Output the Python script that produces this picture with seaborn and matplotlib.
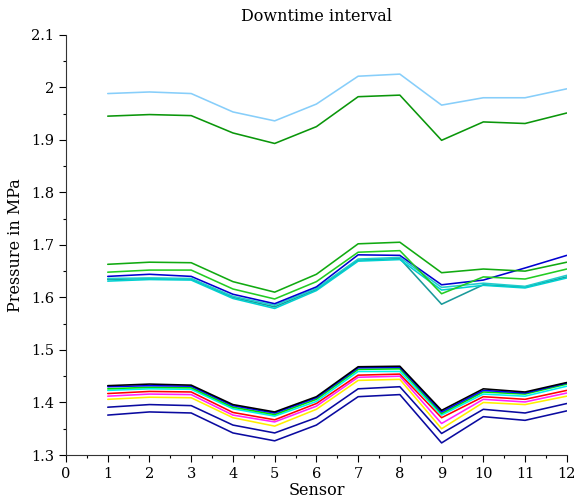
import numpy as np
import pandas as pd
import matplotlib
matplotlib.use("Agg")
import matplotlib.pyplot as plt
import matplotlib.ticker as mticker
import seaborn as sns

# sensor positions
sensors = list(range(1, 13))

# upper group
light_blue = [1.988, 1.991, 1.988, 1.953, 1.936, 1.968, 2.021, 2.025, 1.966, 1.980, 1.980, 1.997]
top_green = [1.945, 1.948, 1.946, 1.913, 1.893, 1.925, 1.982, 1.985, 1.899, 1.934, 1.931, 1.951]

# middle group
mid_green = [1.663, 1.667, 1.666, 1.630, 1.610, 1.644, 1.702, 1.705, 1.647, 1.654, 1.650, 1.667]
mid_lime = [1.648, 1.652, 1.652, 1.616, 1.597, 1.630, 1.686, 1.689, 1.607, 1.639, 1.635, 1.654]
mid_blue = [1.640, 1.644, 1.640, 1.606, 1.588, 1.620, 1.681, 1.680, 1.624, 1.633, 1.656, 1.680]
mid_teal = [1.634, 1.636, 1.635, 1.600, 1.582, 1.615, 1.671, 1.674, 1.587, 1.624, 1.620, 1.639]
mid_cyan1 = [1.636, 1.637, 1.636, 1.602, 1.585, 1.617, 1.673, 1.676, 1.619, 1.627, 1.621, 1.642]
mid_cyan2 = [1.631, 1.634, 1.633, 1.598, 1.579, 1.613, 1.669, 1.672, 1.614, 1.623, 1.618, 1.637]

# lower group
low_black = [1.432, 1.435, 1.433, 1.396, 1.382, 1.411, 1.468, 1.469, 1.385, 1.426, 1.420, 1.438]
low_blue = [1.430, 1.432, 1.431, 1.394, 1.380, 1.409, 1.466, 1.467, 1.382, 1.423, 1.418, 1.437]
low_green = [1.426, 1.429, 1.428, 1.391, 1.377, 1.406, 1.463, 1.464, 1.379, 1.420, 1.416, 1.435]
low_cyan = [1.423, 1.426, 1.425, 1.388, 1.374, 1.402, 1.459, 1.459, 1.376, 1.416, 1.412, 1.431]
low_red = [1.417, 1.421, 1.420, 1.381, 1.367, 1.398, 1.452, 1.454, 1.371, 1.411, 1.406, 1.423]
low_magenta = [1.412, 1.416, 1.415, 1.376, 1.363, 1.393, 1.448, 1.450, 1.360, 1.406, 1.401, 1.418]
low_yellow = [1.406, 1.410, 1.409, 1.371, 1.355, 1.387, 1.442, 1.444, 1.350, 1.400, 1.396, 1.412]
low_navy1 = [1.391, 1.396, 1.394, 1.357, 1.342, 1.371, 1.426, 1.430, 1.341, 1.387, 1.380, 1.398]
low_navy2 = [1.376, 1.382, 1.380, 1.342, 1.327, 1.357, 1.411, 1.415, 1.323, 1.373, 1.366, 1.384]

series = [
    (light_blue, "#87cefa"),
    (top_green, "#0a960a"),
    (mid_teal, "#1a9a9a"),
    (mid_cyan1, "#20cccc"),
    (mid_cyan2, "#00d0d0"),
    (mid_blue, "#0000d0"),
    (mid_lime, "#22cc22"),
    (mid_green, "#11aa11"),
    (low_navy2, "#0a0aa0"),
    (low_navy1, "#0a0aa0"),
    (low_yellow, "#ffee00"),
    (low_magenta, "#ff22ff"),
    (low_red, "#ff0000"),
    (low_cyan, "#00f0f0"),
    (low_green, "#00e000"),
    (low_blue, "#0000ff"),
    (low_black, "#000000"),
]

sns.set_theme(style="ticks")
plt.rcParams["font.family"] = ["DejaVu Serif"]
plt.rcParams["text.color"] = "black"
plt.rcParams["axes.labelcolor"] = "black"

fig = plt.figure(figsize=(5.76, 5.03), dpi=100)
ax = fig.add_axes([0.1146, 0.0954, 0.8694, 0.8356])

for vals, col in series:
    sns.lineplot(x=sensors, y=vals, color=col, linewidth=1.15, ax=ax)

ax.set_xlim(0, 12)
ax.set_ylim(1.3, 2.1)
ax.xaxis.set_major_locator(mticker.MultipleLocator(1))
ax.xaxis.set_minor_locator(mticker.MultipleLocator(0.5))
ax.yaxis.set_major_locator(mticker.MultipleLocator(0.1))
ax.yaxis.set_minor_locator(mticker.MultipleLocator(0.05))
ax.yaxis.set_major_formatter(mticker.FuncFormatter(lambda v, p: "%g" % round(v, 3)))
ax.tick_params(which="major", direction="out", length=5, width=0.8, labelsize=10.5, colors="black")
ax.tick_params(which="minor", direction="out", length=2.5, width=0.8, colors="black")
for s in ("left", "bottom"):
    ax.spines[s].set_linewidth(0.8)
    ax.spines[s].set_color("#333333")
sns.despine(ax=ax)

ax.set_title("Downtime interval", fontsize=11.5, pad=10, color="black")
ax.set_xlabel("Sensor", fontsize=11.5, labelpad=1)
ax.set_ylabel("Pressure in MPa", fontsize=11.5, labelpad=5)

fig.savefig("out.png", dpi=100)
